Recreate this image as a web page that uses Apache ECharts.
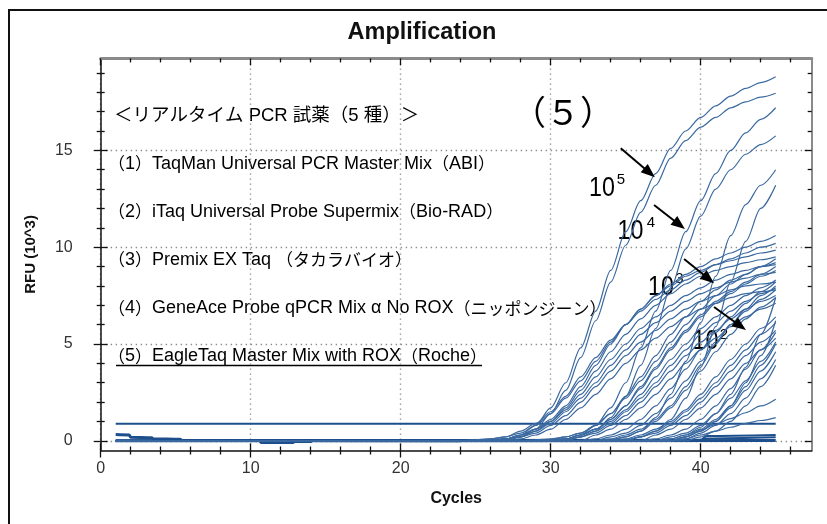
<!DOCTYPE html>
<html>
<head>
<meta charset="utf-8">
<script src="https://cdn.jsdelivr.net/npm/echarts@6.0.0/dist/echarts.min.js"></script>
<style>
html,body{margin:0;padding:0;background:#fff;}
#chart{width:827px;height:524px;}
</style>
</head>
<body>
<div id="chart"></div>
<script>
// ---------- data ----------
const riseCycles = [24,25,26,27,28,29,30,31,32,33,34,35,36,37,38,39,40,41,42,43,44,45];

// reagent with highest signal (steep)
const r1e5a = [0,0,0.05,0.1,0.3,0.8,1.7,3.0,4.8,6.7,8.8,10.8,12.4,13.8,15.1,16.0,16.7,17.3,17.8,18.2,18.5,18.8];
const r1e5b = [0,0,0,0.05,0.2,0.6,1.4,2.6,4.3,6.2,8.2,10.1,11.8,13.2,14.6,15.5,16.2,16.7,17.2,17.5,17.75,17.95];
const r1e4a = [0,0,0,0,0,0,0.05,0.1,0.3,0.8,1.7,3.0,4.8,6.7,8.8,10.8,12.4,13.8,15.0,15.9,16.6,17.2];
const r1e4b = [0,0,0,0,0,0,0,0.05,0.2,0.5,1.2,2.3,3.9,5.8,7.9,9.9,11.6,13.0,14.0,14.8,15.3,15.75];
const r1e3a = [0,0,0,0,0,0,0,0,0,0,0.05,0.2,0.5,1.2,2.4,4.1,6.1,8.5,10.6,12.2,13.2,14.0];
const r1e3b = [0,0,0,0,0,0,0,0,0,0,0,0.05,0.2,0.5,1.1,2.2,3.8,5.9,8.2,10.3,12.0,13.2];
const r1e2a = [0,0,0,0,0,0,0,0,0,0,0,0,0,0,0.1,0.3,0.7,1.4,2.4,3.8,5.5,7.4];
const r1e2b = [0,0,0,0,0,0,0,0,0,0,0,0,0,0,0,0.2,0.5,1.0,1.8,3.0,4.4,6.2];

// other reagents (lower plateau)
const r2e5a = [0,0.05,0.1,0.2,0.4,0.8,1.4,2.2,3.1,4.1,5.1,6.0,6.8,7.5,8.1,8.6,9.0,9.4,9.7,10.0,10.3,10.6];
const r2e5b = [0,0.05,0.1,0.2,0.5,0.9,1.5,2.3,3.3,4.3,5.2,6.0,6.7,7.3,7.8,8.3,8.7,9.1,9.4,9.7,10.0,10.2];
const r3e5a = [0,0,0.05,0.1,0.3,0.6,1.1,1.8,2.8,3.9,5.0,6.0,6.8,7.5,8.0,8.5,8.8,9.1,9.3,9.5,9.7,9.85];
const r3e5b = [0,0,0,0.1,0.2,0.5,1.0,1.7,2.6,3.6,4.6,5.5,6.3,7.0,7.6,8.1,8.5,8.8,9.0,9.2,9.35,9.5];
const r4e5a = [0,0,0.05,0.1,0.3,0.6,1.0,1.6,2.4,3.3,4.2,5.0,5.8,6.4,7.0,7.5,7.9,8.3,8.6,8.8,9.0,9.1];
const r4e5b = [0,0,0,0.1,0.2,0.5,0.9,1.5,2.2,3.0,3.9,4.7,5.5,6.1,6.7,7.2,7.6,7.9,8.2,8.4,8.6,8.7];
const r5e5a = [0,0,0,0.05,0.2,0.4,0.8,1.3,2.0,2.8,3.6,4.4,5.1,5.7,6.3,6.8,7.2,7.5,7.8,8.0,8.1,8.2];
const r5e5b = [0,0,0,0.05,0.1,0.3,0.6,1.1,1.7,2.4,3.2,4.0,4.7,5.3,5.9,6.4,6.8,7.1,7.4,7.6,7.7,7.8];

const r2e4a = [0,0,0,0,0,0.05,0.1,0.2,0.4,0.8,1.4,2.2,3.1,4.1,5.1,6.0,6.8,7.5,8.1,8.6,9.0,9.4];
const r2e4b = [0,0,0,0,0,0,0.05,0.1,0.3,0.6,1.1,1.8,2.8,3.8,4.8,5.7,6.5,7.2,7.7,8.2,8.6,9.0];
const r3e4a = [0,0,0,0,0,0,0.05,0.2,0.4,0.8,1.4,2.3,3.3,4.4,5.5,6.4,7.2,7.8,8.3,8.6,9.0,9.2];
const r3e4b = [0,0,0,0,0,0,0,0.1,0.3,0.6,1.1,1.8,2.7,3.7,4.7,5.6,6.4,7.1,7.6,8.1,8.5,8.8];
const r4e4a = [0,0,0,0,0,0,0,0.1,0.3,0.6,1.0,1.6,2.4,3.3,4.2,5.0,5.8,6.4,7.0,7.5,7.9,8.3];
const r4e4b = [0,0,0,0,0,0,0,0,0.2,0.5,0.9,1.5,2.2,3.0,3.9,4.7,5.5,6.1,6.7,7.2,7.6,7.9];
const r5e4a = [0,0,0,0,0,0,0,0,0.2,0.4,0.8,1.3,2.0,2.8,3.6,4.4,5.1,5.7,6.3,6.8,7.2,7.5];
const r5e4b = [0,0,0,0,0,0,0,0,0,0.3,0.6,1.1,1.7,2.4,3.2,4.0,4.7,5.3,5.9,6.4,6.8,7.1];

const r2e3a = [0,0,0,0,0,0,0,0,0,0.1,0.3,0.6,1.1,1.8,2.7,3.7,4.7,5.6,6.4,7.1,7.7,8.2];
const r2e3b = [0,0,0,0,0,0,0,0,0,0,0.2,0.4,0.8,1.4,2.2,3.1,4.1,5.1,6.0,6.7,7.3,7.8];
const r3e3a = [0,0,0,0,0,0,0,0,0,0,0.1,0.3,0.6,1.1,1.8,2.8,3.9,5.0,6.0,6.8,7.5,8.0];
const r3e3b = [0,0,0,0,0,0,0,0,0,0,0,0.2,0.5,1.0,1.7,2.6,3.6,4.6,5.5,6.3,6.9,7.4];
const r4e3a = [0,0,0,0,0,0,0,0,0,0,0,0.1,0.3,0.6,1.0,1.6,2.4,3.3,4.2,5.0,5.8,6.4];
const r4e3b = [0,0,0,0,0,0,0,0,0,0,0,0,0.2,0.5,0.9,1.5,2.2,3.0,3.9,4.7,5.5,6.1];
const r5e3a = [0,0,0,0,0,0,0,0,0,0,0,0,0.2,0.4,0.8,1.3,2.0,2.8,3.6,4.4,5.1,5.7];
const r5e3b = [0,0,0,0,0,0,0,0,0,0,0,0,0,0.3,0.6,1.1,1.7,2.4,3.2,4.0,4.7,5.3];

const r2e2a = [0,0,0,0,0,0,0,0,0,0,0,0,0,0.1,0.3,0.6,1.1,1.8,2.7,3.7,4.7,5.6];
const r2e2b = [0,0,0,0,0,0,0,0,0,0,0,0,0,0,0.2,0.4,0.8,1.4,2.2,3.1,4.1,5.1];
const r3e2a = [0,0,0,0,0,0,0,0,0,0,0,0,0,0,0.1,0.3,0.6,1.1,1.8,2.8,3.9,5.0];
const r3e2b = [0,0,0,0,0,0,0,0,0,0,0,0,0,0,0,0.2,0.5,1.0,1.7,2.6,3.6,4.6];
const r4e2a = [0,0,0,0,0,0,0,0,0,0,0,0,0,0,0,0.1,0.4,0.8,1.4,2.2,3.2,4.2];
const r4e2b = [0,0,0,0,0,0,0,0,0,0,0,0,0,0,0,0,0.2,0.5,1.0,1.8,2.8,3.9];
const r5e2a = [0,0,0,0,0,0,0,0,0,0,0,0,0,0,0,0.2,0.56,0.85,1.15,1.45,1.8,2.15];
const r5e2b = [0,0,0,0,0,0,0,0,0,0,0,0,0,0,0,0.1,0.3,0.5,0.7,0.9,1.05,1.2];

// flat / baseline traces
const flatCycles = [1, 45];
const flatValues = [0.88, 0.88];
const noiseACycles = [1, 1.9, 2, 3.4, 3.5, 5.3, 5.4, 24];
const noiseAValues = [0.32, 0.3, 0.18, 0.16, 0.1, 0.08, 0.02, 0];
const noiseBCycles = [1, 10.6, 10.7, 12.8, 12.9, 14, 14.1, 45];
const noiseBValues = [0, 0, -0.09, -0.09, -0.04, -0.04, 0, 0.02];
const tailCycles = [1, 40, 40.4, 45];
const tailAValues = [0.02, 0.05, 0.25, 0.3];
const tailBValues = [0, 0.03, 0.12, 0.18];

// axis ticks
const xMajor = [0, 10, 20, 30, 40];
const xMinor = [2,4,6,8,12,14,16,18,22,24,26,28,32,34,36,38,42,44,46];
const yMajor = [0, 5, 10, 15];
const yMinor = [1,2,3,4,6,7,8,9,11,12,13,14,16,17,18,19];

// texts
const chartTitle = 'Amplification';
const xName = 'Cycles';
const yName = 'RFU (10^3)';
const reagentTitle = '＜リアルタイム PCR 試薬（5 種）＞';
const reagentLines = [
  '（1）TaqMan Universal PCR Master Mix（ABI）',
  '（2）iTaq Universal Probe Supermix（Bio-RAD）',
  '（3）Premix EX Taq （タカラバイオ）',
  '（4）GeneAce Probe qPCR Mix α No ROX（ニッポンジーン）',
  '（5）EagleTaq Master Mix with ROX（Roche）'
];
const panelLabel = '（５）';
const powerBase = '10';
const powerExps = ['5', '4', '3', '2'];
// arrow annotations (cycle, RFU) start -> end
const arrowFrom = [[34.67, 15.11], [36.89, 12.18], [38.89, 9.39], [40.89, 6.91]];
const arrowTo   = [[36.59, 13.85], [38.58, 11.16], [40.53, 8.37], [42.64, 5.93]];

// ---------- chart ----------
const X_MIN = 0, X_MAX = 47.4, Y_MIN = -0.5, Y_MAX = 19.75;
const LATIN = '"Liberation Sans", Arial, sans-serif';
const MIXED = '"Liberation Sans", Arial, "Noto Sans CJK JP", sans-serif';
const CJK = '"Noto Sans CJK JP", sans-serif';
const CURVE = '#3a69a0';
const DARK = '#1d4f8c';

const curveList = [r1e5a,r1e5b,r1e4a,r1e4b,r1e3a,r1e3b,r1e2a,r1e2b,
  r2e5a,r2e5b,r3e5a,r3e5b,r4e5a,r4e5b,r5e5a,r5e5b,
  r2e4a,r2e4b,r3e4a,r3e4b,r4e4a,r4e4b,r5e4a,r5e4b,
  r2e3a,r2e3b,r3e3a,r3e3b,r4e3a,r4e3b,r5e3a,r5e3b,
  r2e2a,r2e2b,r3e2a,r3e2b,r4e2a,r4e2b,r5e2a,r5e2b];

const pair = (cs, vs) => cs.map((c, i) => [c, vs[i]]);

const series = [];
function addTrace(data, color, width) {
  series.push({
    type: 'line', xAxisIndex: 0, yAxisIndex: 0, symbol: 'none',
    smooth: 0.3, smoothMonotone: 'x', silent: true, animation: false,
    lineStyle: { color: color, width: width }, data: data
  });
}
addTrace(pair(noiseACycles, noiseAValues), DARK, 3);
addTrace(pair(noiseBCycles, noiseBValues), DARK, 3);
addTrace(pair(tailCycles, tailAValues), DARK, 2);
addTrace(pair(tailCycles, tailBValues), DARK, 2);
addTrace(pair(flatCycles, flatValues), DARK, 2);
curveList.forEach(vals => {
  addTrace([[1, vals[0]]].concat(pair(riseCycles, vals)), CURVE, 1.2);
});
series.push({
  type: 'line', xAxisIndex: 0, yAxisIndex: 0, data: [], silent: true,
  markLine: {
    silent: true, animation: false, symbol: ['none', 'triangle'], symbolSize: [11, 14],
    lineStyle: { color: '#000', width: 2, type: 'solid' }, label: { show: false },
    emphasis: { disabled: true },
    data: arrowFrom.map((s, i) => [{ coord: s }, { coord: arrowTo[i] }])
  }
});

const gridDots = { show: true, lineStyle: { color: '#8c8c8c', width: 1.4, type: [1.4, 3.6] } };
function axisDef(kind, position, ticks, len, inside, extra) {
  const base = {
    type: 'value', gridIndex: 0, position: position,
    min: kind === 'x' ? X_MIN : Y_MIN, max: kind === 'x' ? X_MAX : Y_MAX,
    axisLine: { show: false, onZero: false },
    axisTick: { show: true, customValues: ticks, length: len, inside: inside, lineStyle: { color: '#111', width: 1.3 } },
    axisLabel: { show: false },
    splitLine: { show: false }, minorTick: { show: false }, minorSplitLine: { show: false }
  };
  return Object.assign(base, extra || {});
}

const xAxes = [
  axisDef('x', 'bottom', xMajor, 7, false, {
    axisLine: { show: true, onZero: false, lineStyle: { color: '#111', width: 1.5 } },
    axisLabel: { show: true, customValues: xMajor, margin: 10, color: '#333', fontSize: 16, fontFamily: LATIN },
    splitLine: gridDots,
    name: xName, nameLocation: 'middle', nameGap: 40,
    nameTextStyle: { fontFamily: LATIN, fontWeight: 'bold', fontSize: 16, color: '#111' }
  }),
  axisDef('x', 'bottom', xMajor, 7, true),
  axisDef('x', 'bottom', xMinor, 4, false),
  axisDef('x', 'bottom', xMinor, 4, true),
  axisDef('x', 'top', xMajor, 7, true, { axisLine: { show: true, onZero: false, lineStyle: { color: '#8a8a8a', width: 3 } } }),
  axisDef('x', 'top', xMinor, 4, true)
];
const yAxes = [
  axisDef('y', 'left', yMajor, 7, false, {
    axisLine: { show: true, onZero: false, lineStyle: { color: '#111', width: 1.5 } },
    axisLabel: { show: true, customValues: yMajor, margin: 28, color: '#333', fontSize: 16, fontFamily: LATIN },
    splitLine: gridDots,
    name: yName, nameLocation: 'middle', nameGap: 62, nameRotate: 90,
    nameTextStyle: { fontFamily: LATIN, fontWeight: 'bold', fontSize: 15, color: '#111' }
  }),
  axisDef('y', 'left', yMajor, 7, true),
  axisDef('y', 'left', yMinor, 4, false),
  axisDef('y', 'left', yMinor, 4, true),
  axisDef('y', 'right', yMajor, 7, true, { axisLine: { show: true, onZero: false, lineStyle: { color: '#8a8a8a', width: 2 } } }),
  axisDef('y', 'right', yMinor, 4, true)
];

// rich text: Latin runs vs CJK runs
const CJK_RE = /([\u3000-\u30ff\u3400-\u9fff\uff00-\uffef]+)/;
function richify(s) {
  return s.split(CJK_RE).filter(p => p.length).map(p => (CJK_RE.test(p) ? '{j|' : '{l|') + p + '}').join('');
}
const lineRich = {
  l: { fontFamily: LATIN, fontSize: 18, fill: '#000' },
  j: { fontFamily: CJK, fontSize: 17, fill: '#000' }
};

const lineYs = [164, 212, 260, 308.5, 356.5];
const powerBasePos = [[602, 188], [630.5, 231.5], [661, 287], [705.5, 341.5]];
const powerExpPos = [[621, 180], [651, 223], [679.5, 278.5], [724, 334.5]];

const graphics = [
  { type: 'rect', silent: true, shape: { x: 9, y: 10, width: 840, height: 540 }, style: { fill: 'none', stroke: '#111', lineWidth: 2 } },
  { type: 'text', silent: true, x: 422, y: 33, style: { text: chartTitle, font: 'bold 23.5px ' + LATIN, fill: '#111', align: 'center', verticalAlign: 'middle' } },
  { type: 'text', silent: true, x: 114, y: 116, style: { text: reagentTitle, font: '18.5px ' + MIXED, fill: '#000', align: 'left', verticalAlign: 'middle' } },
  { type: 'line', silent: true, shape: { x1: 116, y1: 365.5, x2: 482, y2: 365.5 }, style: { stroke: '#000', lineWidth: 1.5 } },
  { type: 'text', silent: true, x: 563, y: 112, style: { text: panelLabel, font: '34px ' + CJK, fill: '#000', align: 'center', verticalAlign: 'middle' } }
];
reagentLines.forEach((t, i) => {
  graphics.push({ type: 'text', silent: true, x: 108, y: lineYs[i], style: { text: richify(t), rich: lineRich, align: 'left', verticalAlign: 'middle' } });
});
powerExps.forEach((e, i) => {
  graphics.push({ type: 'text', silent: true, x: powerBasePos[i][0], y: powerBasePos[i][1], scaleX: 0.83, style: { text: powerBase, font: '28px ' + LATIN, fill: '#000', align: 'center', verticalAlign: 'middle' } });
  graphics.push({ type: 'text', silent: true, x: powerExpPos[i][0], y: powerExpPos[i][1], style: { text: e, font: '15px ' + LATIN, fill: '#000', align: 'center', verticalAlign: 'middle' } });
});

const option = {
  animation: false,
  backgroundColor: '#fff',
  grid: { left: 100.7, right: 15.3, top: 58.4, bottom: 73.5, containLabel: false },
  xAxis: xAxes,
  yAxis: yAxes,
  series: series,
  graphic: graphics
};

const chart = echarts.init(document.getElementById('chart'), null, { renderer: 'canvas' });
chart.setOption(option);
</script>
</body>
</html>
